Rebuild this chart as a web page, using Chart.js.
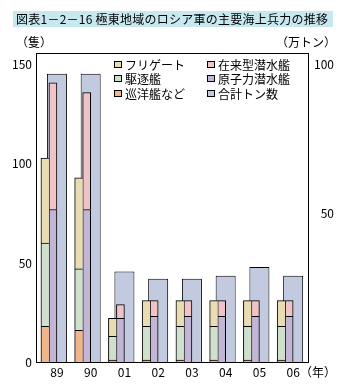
<!DOCTYPE html>
<html lang="ja">
<head>
<meta charset="UTF-8">
<script src="https://cdn.jsdelivr.net/npm/chart.js"></script>
<title>極東地域のロシア軍の主要海上兵力の推移</title>
<style>
    body {
        margin: 0;
        background: #fff;
        font-family: "Noto Sans CJK JP", sans-serif;
        color: #000;
    }
    .wrap {
        position: relative;
        width: 347px;
        height: 389px;
    }
    canvas {
        position: absolute;
        left: 0;
        top: 0;
    }
    .title {
        position: absolute;
        left: 13px;
        top: 11px;
        width: 320px;
        height: 16px;
        padding-left: 3px;
        box-sizing: border-box;
        background: #c8e8f0;
        font-size: 12px;
        line-height: 16px;
        letter-spacing: 0.25px;
        white-space: nowrap;
    }
    .unit {
        position: absolute;
        font-size: 12px;
        line-height: 12px;
        white-space: nowrap;
    }
    .legend {
        position: absolute;
        left: 114px;
        top: 57px;
        display: grid;
        grid-template-columns: 93px auto;
        grid-template-rows: repeat(3, 14.5px);
        grid-auto-flow: column;
        font-size: 12px;
    }
    .legend div {
        display: flex;
        align-items: center;
        white-space: nowrap;
    }
    .legend .box {
        width: 8px;
        height: 7px;
        border: 1px solid #000;
        box-sizing: border-box;
        margin-right: 3px;
    }
</style>
</head>
<body>
<div class="wrap">
    <canvas id="navyChart" width="347" height="389"></canvas>
    <div class="title">図表1－2－16 極東地域のロシア軍の主要海上兵力の推移</div>
    <div class="unit" style="left:16px; top:36px;">（隻）</div>
    <div class="unit" style="left:276px; top:36px;">（万トン）</div>
    <div class="unit" style="left:300px; top:366px;">（年）</div>
    <div class="legend" id="legend"></div>
</div>
<script>
    const years = ['89', '90', '01', '02', '03', '04', '05', '06'];
    const cruisers = [18, 16, 1, 1, 1, 1, 1, 1];
    const destroyers = [42, 31, 12, 17, 17, 17, 17, 17];
    const frigates = [43, 46, 9, 13, 13, 13, 13, 13];
    const nuclearSubs = [77, 77, 22, 23, 23, 23, 23, 23];
    const dieselSubs = [64, 59, 7, 8, 8, 8, 8, 8];
    const totalTons = [97, 97, 30.5, 28, 28, 29, 32, 29];
    const shipTicks = [0, 50, 100, 150];
    const tonTicks = [50, 100];

    const font = { family: '"Noto Sans CJK JP", sans-serif', size: 12 };
    const pts = arr => arr.map((v, i) => ({ x: i, y: v }));
    const noRight = { top: 1, left: 1, right: 0, bottom: 0 };

    // x range so that the year centres line up with the labels
    const xMin = -0.62, xMax = 7.44;
    const yearTicks = s => { s.ticks = years.map((_, i) => ({ value: i })); };

    const ctx = document.getElementById('navyChart').getContext('2d');
    const navyChart = new Chart(ctx, {
        type: 'bar',
        data: {
            datasets: [
                { label: '巡洋艦など', data: pts(cruisers), stack: 'surface', backgroundColor: '#f0b68a', borderWidth: noRight, barThickness: 8 },
                { label: '駆逐艦', data: pts(destroyers), stack: 'surface', backgroundColor: '#cfe0cc', borderWidth: noRight, barThickness: 8 },
                { label: 'フリゲート', data: pts(frigates), stack: 'surface', backgroundColor: '#e8dcb2', borderWidth: noRight, barThickness: 8 },
                { label: '原子力潜水艦', data: pts(nuclearSubs), stack: 'sub', backgroundColor: '#c3b5d5', barThickness: 8 },
                { label: '在来型潜水艦', data: pts(dieselSubs), stack: 'sub', backgroundColor: '#f0c4c6', barThickness: 8 },
                // empty slots so the two ship stacks sit left of centre
                { label: '', data: pts(years.map(() => null)), stack: 'pad1', barThickness: 8 },
                { label: '', data: pts(years.map(() => null)), stack: 'pad2', barThickness: 8 },
                {
                    label: '合計トン数', data: pts(totalTons), yAxisID: 'y2', grouped: false,
                    backgroundColor: '#c2cadf', categoryPercentage: 1, barPercentage: 0.593
                }
            ]
        },
        options: {
            responsive: false,
            animation: false,
            layout: { padding: { top: 53, left: 0, right: 13, bottom: 0 } },
            datasets: {
                bar: { borderColor: '#000', borderWidth: 1 }
            },
            plugins: {
                legend: { display: false },
                tooltip: { enabled: false }
            },
            scales: {
                x: {
                    type: 'linear', min: xMin, max: xMax, offset: false, bounds: 'data',
                    afterBuildTicks: yearTicks,
                    afterFit: s => { s.height = 27; },
                    grid: { display: false, drawTicks: false, offset: false },
                    border: { color: '#000', width: 1 },
                    ticks: { callback: (v, i) => years[i], color: '#000', font: font, padding: 3, maxRotation: 0, autoSkip: false }
                },
                // top edge of the frame
                x2: {
                    type: 'linear', position: 'top', min: xMin, max: xMax, offset: false, bounds: 'data',
                    afterFit: s => { s.height = 0; },
                    grid: { display: false, drawTicks: false, offset: false },
                    border: { color: '#000', width: 1 },
                    ticks: { display: false }
                },
                y: {
                    min: 0, max: 156, stacked: true,
                    afterBuildTicks: s => { s.ticks = shipTicks.map(v => ({ value: v })); },
                    afterFit: s => { s.width = 36; },
                    grid: { display: false, drawTicks: false },
                    border: { color: '#000', width: 1 },
                    ticks: { color: '#000', font: font, padding: 4 }
                },
                y2: {
                    position: 'right', min: 0, max: 104,
                    afterBuildTicks: s => { s.ticks = tonTicks.map(v => ({ value: v })); },
                    afterFit: s => { s.width = 26; },
                    grid: { display: false, drawTicks: false },
                    border: { color: '#000', width: 1 },
                    ticks: { color: '#000', font: font, padding: 5, crossAlign: 'far' }
                }
            }
        }
    });

    // legend: two columns, filled top to bottom
    const legendOrder = ['フリゲート', '駆逐艦', '巡洋艦など', '在来型潜水艦', '原子力潜水艦', '合計トン数'];
    const legend = document.getElementById('legend');
    legendOrder.forEach(name => {
        const ds = navyChart.data.datasets.find(d => d.label === name);
        const item = document.createElement('div');
        const box = document.createElement('span');
        box.className = 'box';
        box.style.background = ds.backgroundColor;
        item.appendChild(box);
        item.appendChild(document.createTextNode(name));
        legend.appendChild(item);
    });
</script>
</body>
</html>
